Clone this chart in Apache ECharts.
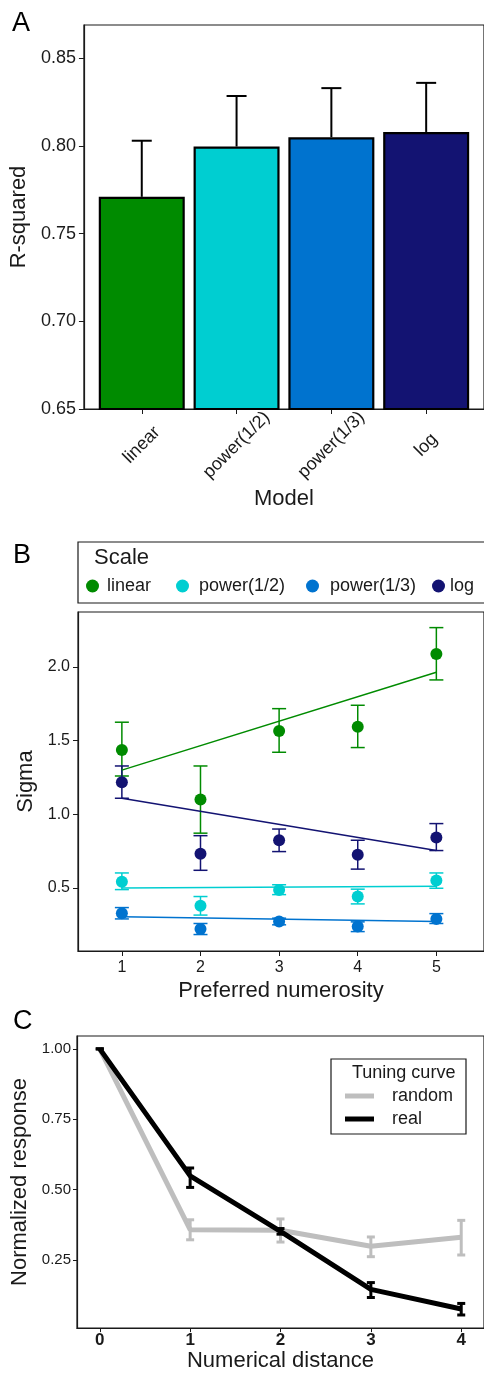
<!DOCTYPE html>
<html>
<head>
<meta charset="utf-8">
<script src="https://cdn.jsdelivr.net/npm/echarts@6/dist/echarts.min.js"></script>
<style>
html,body{margin:0;padding:0;background:#fff;}
#chart{width:484px;height:1373px;}
</style>
</head>
<body>
<div id="chart"></div>
<script>
// ---------- Panel A data ----------
const modelNames = ['linear', 'power(1/2)', 'power(1/3)', 'log'];
const modelPos = [1, 2, 3, 4];
const rsqMean = [0.771, 0.7997, 0.805, 0.808];
const rsqUpper = [0.803, 0.8285, 0.833, 0.836];
const rsqTicks = [0.65, 0.70, 0.75, 0.80, 0.85];

// ---------- Panel B data ----------
const scaleNames = ['linear', 'power(1/2)', 'power(1/3)', 'log'];
const numerosity = [1, 2, 3, 4, 5];
const sigmaLinear = [1.437, 1.10, 1.566, 1.595, 2.088];
const sigmaLinearLo = [1.26, 0.872, 1.421, 1.453, 1.912];
const sigmaLinearHi = [1.625, 1.328, 1.717, 1.74, 2.267];
const sigmaPow2 = [0.543, 0.379, 0.487, 0.442, 0.55];
const sigmaPow2Lo = [0.489, 0.316, 0.455, 0.392, 0.498];
const sigmaPow2Hi = [0.602, 0.442, 0.522, 0.492, 0.602];
const sigmaPow3 = [0.329, 0.221, 0.272, 0.238, 0.29];
const sigmaPow3Lo = [0.29, 0.184, 0.25, 0.204, 0.259];
const sigmaPow3Hi = [0.367, 0.259, 0.295, 0.27, 0.326];
const sigmaLog = [1.218, 0.733, 0.824, 0.726, 0.842];
const sigmaLogLo = [1.109, 0.62, 0.747, 0.628, 0.754];
const sigmaLogHi = [1.328, 0.855, 0.90, 0.824, 0.937];
const fitX = [1, 5];
const fitLinear = [1.30, 1.964];
const fitPow2 = [0.50, 0.512];
const fitPow3 = [0.305, 0.272];
const fitLog = [1.109, 0.754];
const sigmaTicks = [0.5, 1.0, 1.5, 2.0];

// ---------- Panel C data ----------
const distance = [0, 1, 2, 3, 4];
const randomMean = [1.0, 0.358, 0.356, 0.299, 0.331];
const randomLo = [1.0, 0.322, 0.314, 0.262, 0.268];
const randomHi = [1.0, 0.393, 0.396, 0.332, 0.391];
const realMean = [1.0, 0.549, 0.352, 0.146, 0.076];
const realLo = [1.0, 0.508, 0.342, 0.117, 0.055];
const realHi = [1.0, 0.577, 0.362, 0.170, 0.096];
const respTicks = [0.25, 0.50, 0.75, 1.00];

// ---------- styling ----------
const FONT = 'Liberation Sans, Arial, Helvetica, sans-serif';
const INK = '#1a1a1a';
const colLinear = '#008B00', colPow2 = '#00CED1', colPow3 = '#0073CF', colLog = '#131372';
const barColors = [colLinear, colPow2, colPow3, colLog];
const scaleColors = [colLinear, colPow2, colPow3, colLog];

function errRender(capW, color, lw, bothCaps) {
  return function (params, api) {
    const x = api.value(0), lo = api.value(1), hi = api.value(2);
    const pLo = api.coord([x, lo]), pHi = api.coord([x, hi]);
    const h = capW / 2;
    const st = { stroke: color, lineWidth: lw };
    const ch = [
      { type: 'line', shape: { x1: pLo[0], y1: pLo[1], x2: pHi[0], y2: pHi[1] }, style: st },
      { type: 'line', shape: { x1: pHi[0] - h, y1: pHi[1], x2: pHi[0] + h, y2: pHi[1] }, style: st }
    ];
    if (bothCaps) ch.push({ type: 'line', shape: { x1: pLo[0] - h, y1: pLo[1], x2: pLo[0] + h, y2: pLo[1] }, style: st });
    return { type: 'group', children: ch };
  };
}
function zip3(xs, a, b) { return xs.map((x, i) => [x, a[i], b[i]]); }
function zip2(xs, a) { return xs.map((x, i) => [x, a[i]]); }

const axisLineStyle = { show: true, onZero: false, lineStyle: { color: INK, width: 1.2 } };

const chart = echarts.init(document.getElementById('chart'), null, { renderer: 'canvas' });

function scaleLegend(idx, left, pad) {
  return {
    data: [{ name: scaleNames[idx], itemStyle: { color: scaleColors[idx] } }],
    left: left, top: 577, padding: 0, itemWidth: 13, itemHeight: 13, icon: 'circle',
    textStyle: { fontSize: 18, color: INK, fontFamily: FONT, padding: [0, 0, 0, pad] }
  };
}

const option = {
  backgroundColor: '#fff',
  animation: false,
  textStyle: { fontFamily: FONT },
  grid: [
    { left: 78, top: 25, width: 410, height: 384, show: true, borderColor: INK, borderWidth: 1.2 },
    { left: 78, top: 612, width: 410, height: 339, show: true, borderColor: INK, borderWidth: 1.2 },
    { left: 77, top: 1036, width: 411, height: 295, show: true, borderColor: INK, borderWidth: 1.2 }
  ],
  xAxis: [
    {
      gridIndex: 0, type: 'value', min: 0.39, max: 4.61,
      axisLine: axisLineStyle, splitLine: { show: false },
      axisTick: { show: true, length: 5, lineStyle: { color: INK }, customValues: modelPos },
      axisLabel: {
        customValues: modelPos, rotate: 45, align: 'center', verticalAlign: 'middle', margin: 36,
        fontSize: 18, color: INK, fontFamily: FONT,
        formatter: v => modelNames[Math.round(v) - 1]
      },
      name: 'Model', nameLocation: 'middle', nameGap: 79,
      nameTextStyle: { fontSize: 22, color: INK, fontFamily: FONT }
    },
    {
      gridIndex: 1, type: 'value', min: 0.442, max: 5.606,
      axisLine: axisLineStyle, splitLine: { show: false },
      axisTick: { show: true, length: 5, lineStyle: { color: INK }, customValues: numerosity },
      axisLabel: { customValues: numerosity, margin: 9, fontSize: 16, color: INK, fontFamily: FONT },
      name: 'Preferred numerosity', nameLocation: 'middle', nameGap: 29,
      nameTextStyle: { fontSize: 22, color: INK, fontFamily: FONT }
    },
    {
      gridIndex: 2, type: 'value', min: -0.252, max: 4.252,
      axisLine: axisLineStyle, splitLine: { show: false },
      axisTick: { show: true, length: 4, lineStyle: { color: INK }, customValues: distance },
      axisLabel: { customValues: distance, margin: 4, fontSize: 17, fontWeight: 'bold', color: INK, fontFamily: FONT },
      name: 'Numerical distance', nameLocation: 'middle', nameGap: 19,
      nameTextStyle: { fontSize: 22, color: INK, fontFamily: FONT }
    }
  ],
  yAxis: [
    {
      gridIndex: 0, type: 'value', min: 0.65, max: 0.869,
      axisLine: axisLineStyle, splitLine: { show: false },
      axisTick: { show: true, length: 5, lineStyle: { color: INK }, customValues: rsqTicks },
      axisLabel: { customValues: rsqTicks, margin: 8, fontSize: 18, color: INK, fontFamily: FONT, formatter: v => v.toFixed(2) },
      name: 'R-squared', nameLocation: 'middle', nameGap: 47,
      nameTextStyle: { fontSize: 22, color: INK, fontFamily: FONT }
    },
    {
      gridIndex: 1, type: 'value', min: 0.0723, max: 2.373,
      axisLine: axisLineStyle, splitLine: { show: false },
      axisTick: { show: true, length: 5, lineStyle: { color: INK }, customValues: sigmaTicks },
      axisLabel: { customValues: sigmaTicks, margin: 8, fontSize: 16, color: INK, fontFamily: FONT, formatter: v => v.toFixed(1) },
      name: 'Sigma', nameLocation: 'middle', nameGap: 41,
      nameTextStyle: { fontSize: 22, color: INK, fontFamily: FONT }
    },
    {
      gridIndex: 2, type: 'value', min: 0.0084, max: 1.0457,
      axisLine: axisLineStyle, splitLine: { show: false },
      axisTick: { show: true, length: 4, lineStyle: { color: INK }, customValues: respTicks },
      axisLabel: { customValues: respTicks, margin: 6, fontSize: 15, color: INK, fontFamily: FONT, formatter: v => v.toFixed(2) },
      name: 'Normalized response', nameLocation: 'middle', nameGap: 42,
      nameTextStyle: { fontSize: 22, color: INK, fontFamily: FONT }
    }
  ],
  legend: [
    scaleLegend(0, 86, 3),
    scaleLegend(1, 176, 5),
    scaleLegend(2, 306, 6),
    scaleLegend(3, 432, 0),
    {
      data: [{ name: 'random', itemStyle: { color: '#BEBEBE' } }, { name: 'real', itemStyle: { color: '#000' } }],
      orient: 'vertical', left: 345, top: 1087, padding: 0, itemGap: 5, itemWidth: 29, itemHeight: 5, icon: 'rect',
      textStyle: { fontSize: 18, color: INK, fontFamily: FONT, padding: [0, 0, 0, 13] }
    }
  ],
  graphic: [
    { type: 'text', left: 12, top: 10, style: { text: 'A', fontSize: 27, fontFamily: FONT, fill: '#000' } },
    { type: 'text', left: 13, top: 542, style: { text: 'B', fontSize: 27, fontFamily: FONT, fill: '#000' } },
    { type: 'text', left: 13, top: 1008, style: { text: 'C', fontSize: 27, fontFamily: FONT, fill: '#000' } },
    { type: 'rect', shape: { x: 78, y: 542, width: 420, height: 61 }, style: { fill: 'none', stroke: INK, lineWidth: 1.2 } },
    { type: 'text', x: 94, y: 558, style: { text: 'Scale', fontSize: 22, fontFamily: FONT, fill: INK, verticalAlign: 'middle' } },
    { type: 'rect', shape: { x: 331, y: 1059, width: 135, height: 75 }, style: { fill: 'none', stroke: INK, lineWidth: 1.2 } },
    { type: 'text', x: 352, y: 1073, style: { text: 'Tuning curve', fontSize: 18, fontFamily: FONT, fill: INK, verticalAlign: 'middle' } }
  ],
  series: [
    // Panel A
    {
      type: 'bar', xAxisIndex: 0, yAxisIndex: 0, barWidth: 86,
      data: modelPos.map((x, i) => ({ value: [x, rsqMean[i]], itemStyle: { color: barColors[i] } })),
      itemStyle: { borderColor: '#000', borderWidth: 2.2 }
    },
    {
      type: 'custom', xAxisIndex: 0, yAxisIndex: 0, renderItem: errRender(20, '#000', 2, false),
      data: zip3(modelPos, rsqMean, rsqUpper), encode: { x: 0, y: [1, 2] }, z: 3
    },
    // Panel B: error bars
    { type: 'custom', name: 'linear', xAxisIndex: 1, yAxisIndex: 1, renderItem: errRender(14, colLinear, 1.5, true), data: zip3(numerosity, sigmaLinearLo, sigmaLinearHi), encode: { x: 0, y: [1, 2] }, itemStyle: { color: colLinear } },
    { type: 'custom', name: 'power(1/2)', xAxisIndex: 1, yAxisIndex: 1, renderItem: errRender(14, colPow2, 1.5, true), data: zip3(numerosity, sigmaPow2Lo, sigmaPow2Hi), encode: { x: 0, y: [1, 2] }, itemStyle: { color: colPow2 } },
    { type: 'custom', name: 'power(1/3)', xAxisIndex: 1, yAxisIndex: 1, renderItem: errRender(14, colPow3, 1.5, true), data: zip3(numerosity, sigmaPow3Lo, sigmaPow3Hi), encode: { x: 0, y: [1, 2] }, itemStyle: { color: colPow3 } },
    { type: 'custom', name: 'log', xAxisIndex: 1, yAxisIndex: 1, renderItem: errRender(14, colLog, 1.5, true), data: zip3(numerosity, sigmaLogLo, sigmaLogHi), encode: { x: 0, y: [1, 2] }, itemStyle: { color: colLog } },
    // Panel B: fit lines
    { type: 'line', name: 'linear', xAxisIndex: 1, yAxisIndex: 1, data: zip2(fitX, fitLinear), showSymbol: false, symbol: 'none', lineStyle: { color: colLinear, width: 1.5 }, itemStyle: { color: colLinear } },
    { type: 'line', name: 'power(1/2)', xAxisIndex: 1, yAxisIndex: 1, data: zip2(fitX, fitPow2), showSymbol: false, symbol: 'none', lineStyle: { color: colPow2, width: 1.5 }, itemStyle: { color: colPow2 } },
    { type: 'line', name: 'power(1/3)', xAxisIndex: 1, yAxisIndex: 1, data: zip2(fitX, fitPow3), showSymbol: false, symbol: 'none', lineStyle: { color: colPow3, width: 1.5 }, itemStyle: { color: colPow3 } },
    { type: 'line', name: 'log', xAxisIndex: 1, yAxisIndex: 1, data: zip2(fitX, fitLog), showSymbol: false, symbol: 'none', lineStyle: { color: colLog, width: 1.5 }, itemStyle: { color: colLog } },
    // Panel B: points
    { type: 'scatter', name: 'linear', xAxisIndex: 1, yAxisIndex: 1, data: zip2(numerosity, sigmaLinear), symbol: 'circle', symbolSize: 12, itemStyle: { color: colLinear, opacity: 1 }, z: 4 },
    { type: 'scatter', name: 'power(1/2)', xAxisIndex: 1, yAxisIndex: 1, data: zip2(numerosity, sigmaPow2), symbol: 'circle', symbolSize: 12, itemStyle: { color: colPow2, opacity: 1 }, z: 4 },
    { type: 'scatter', name: 'power(1/3)', xAxisIndex: 1, yAxisIndex: 1, data: zip2(numerosity, sigmaPow3), symbol: 'circle', symbolSize: 12, itemStyle: { color: colPow3, opacity: 1 }, z: 4 },
    { type: 'scatter', name: 'log', xAxisIndex: 1, yAxisIndex: 1, data: zip2(numerosity, sigmaLog), symbol: 'circle', symbolSize: 12, itemStyle: { color: colLog, opacity: 1 }, z: 4 },
    // Panel C
    { type: 'line', name: 'random', xAxisIndex: 2, yAxisIndex: 2, data: zip2(distance, randomMean), showSymbol: false, symbol: 'none', lineStyle: { color: '#BEBEBE', width: 5 }, itemStyle: { color: '#BEBEBE' }, z: 2 },
    { type: 'custom', xAxisIndex: 2, yAxisIndex: 2, renderItem: errRender(8, '#BEBEBE', 3, true), data: zip3(distance, randomLo, randomHi), encode: { x: 0, y: [1, 2] }, z: 3 },
    { type: 'line', name: 'real', xAxisIndex: 2, yAxisIndex: 2, data: zip2(distance, realMean), showSymbol: false, symbol: 'none', lineStyle: { color: '#000', width: 5 }, itemStyle: { color: '#000' }, z: 4 },
    { type: 'custom', xAxisIndex: 2, yAxisIndex: 2, renderItem: errRender(8, '#000', 3, true), data: zip3(distance, realLo, realHi), encode: { x: 0, y: [1, 2] }, z: 5 }
  ]
};
chart.setOption(option);
</script>
</body>
</html>
